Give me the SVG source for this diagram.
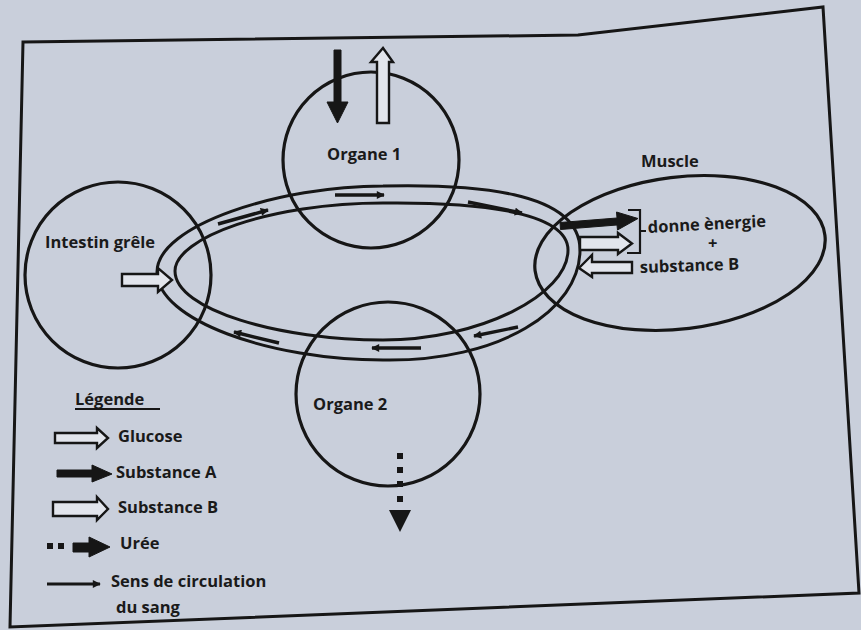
<svg xmlns="http://www.w3.org/2000/svg" width="861" height="630" viewBox="0 0 861 630">
<defs>
<style>
.ln{fill:none;stroke:#161616;stroke-width:3}
.org{fill:none;stroke:#161616;stroke-width:3.2}
.hol{fill:#e2e5ec;stroke:#161616;stroke-width:2.4;stroke-linejoin:miter}
.blk{fill:#161616;stroke:#161616;stroke-width:1}
.flow{fill:none;stroke:#161616;stroke-width:3.4}
.t{font-family:"Open Sans","Liberation Sans",sans-serif;font-weight:700;font-size:16.5px;fill:#1a1a1a}
</style>
<marker id="fh" viewBox="0 0 10 10" refX="9" refY="5" markerWidth="9" markerHeight="8" markerUnits="userSpaceOnUse" orient="auto">
<path d="M0,0 L10,5 L0,10 Z" fill="#161616"/>
</marker>
</defs>
<rect x="0" y="0" width="861" height="630" fill="#c9cfdb"/>
<path id="frame" d="M23,42 L578,35 L823,7 L859,593 L10,627 Z" fill="none" stroke="#161616" stroke-width="3"/>

<g id="connectors">
<path id="ring-outer" class="ln" d="M157,272 C157,225 280,186 383,186 C470,184 580,190 580,250 C580,310 500,362 383,360 C270,360 157,320 157,272 Z"/>
<path id="ring-inner" class="ln" d="M175,271 C175,238 270,203 383,203 C470,202 568,210 568,250 C568,295 480,340 383,340 C280,340 175,310 175,271 Z"/>
<line class="flow" x1="218" y1="224" x2="268" y2="210" marker-end="url(#fh)"/>
<line class="flow" x1="335" y1="195" x2="384" y2="195" marker-end="url(#fh)"/>
<line class="flow" x1="468" y1="202" x2="522" y2="213" marker-end="url(#fh)"/>
<line class="flow" x1="279" y1="343" x2="234" y2="332" marker-end="url(#fh)"/>
<line class="flow" x1="421" y1="348" x2="372" y2="348" marker-end="url(#fh)"/>
<line class="flow" x1="518" y1="327" x2="474" y2="336" marker-end="url(#fh)"/>
</g>

<g id="intestin">
<circle class="org" cx="118" cy="275" r="93"/>
<text class="t" x="45" y="248">Intestin grêle</text>
<polygon class="hol" points="122,274 158,274 158,268 172,280 158,292 158,286 122,286"/>
</g>

<g id="organe1">
<circle class="org" cx="371" cy="160" r="88"/>
<text class="t" x="327" y="160">Organe 1</text>
<polygon class="blk" points="334,50 341,50 341,102 348,102 337.5,123 327,102 334,102"/>
<polygon class="hol" points="377,123 389,123 389,62 393,62 383,48 371,62 377,62"/>
</g>

<g id="organe2">
<circle class="org" cx="388" cy="394" r="92"/>
<text class="t" x="313" y="410">Organe 2</text>
<g fill="#161616">
<rect x="397" y="453" width="6" height="6"/>
<rect x="397" y="467" width="6" height="6"/>
<rect x="397" y="481" width="6" height="6"/>
<rect x="397" y="496" width="6" height="6"/>
<polygon points="389,510 411,510 400,532"/>
</g>
</g>

<g id="muscle">
<ellipse class="org" cx="680" cy="253" rx="146" ry="76" transform="rotate(-7 680 253)"/>
<text class="t" x="641" y="167">Muscle</text>
<polygon class="blk" points="560,222.5 617,218 616.5,212 638,218.5 617.5,230 617,225 560.5,229.5"/>
<polygon class="hol" points="580,237 618,237 618,233 632,243.5 618,254 618,250 580,250"/>
<polygon class="hol" points="632,262 592,262 592,255 579,268 592,277 592,273 632,273"/>
<path d="M628,210 L640,210 L640,253 L627,253 M640,231 L646,231" fill="none" stroke="#161616" stroke-width="2.2"/>
<text class="t" x="648" y="233" transform="rotate(-3 648 233)">donne ènergie</text>
<text class="t" x="708" y="249" font-size="12">+</text>
<text class="t" x="640" y="273" transform="rotate(-2 640 273)">substance B</text>
</g>

<g id="legende">
<text class="t" x="75" y="405" font-size="17">Légende</text>
<line x1="75" y1="409" x2="160" y2="409" stroke="#161616" stroke-width="2"/>
<polygon class="hol" points="55,433 97,433 97,428 108,438 97,448 97,443 55,443"/>
<text class="t" x="118" y="442">Glucose</text>
<polygon class="blk" points="57,470 92,470 92,465 112,474 92,482 92,477 57,477"/>
<text class="t" x="116" y="478">Substance A</text>
<polygon class="hol" points="53,502 97,502 97,497 108,509 97,520 97,516 53,516"/>
<text class="t" x="118" y="513">Substance B</text>
<rect x="47" y="543" width="6" height="6" fill="#161616"/>
<rect x="58" y="543" width="6" height="6" fill="#161616"/>
<polygon class="blk" points="73,543 89,543 89,537 110,547 89,557 89,552 73,552"/>
<text class="t" x="120" y="549">Urée</text>
<line x1="47" y1="584" x2="100" y2="584" stroke="#161616" stroke-width="3" marker-end="url(#fh)"/>
<text class="t" x="111" y="587">Sens de circulation</text>
<text class="t" x="116" y="613">du sang</text>
</g>
</svg>
